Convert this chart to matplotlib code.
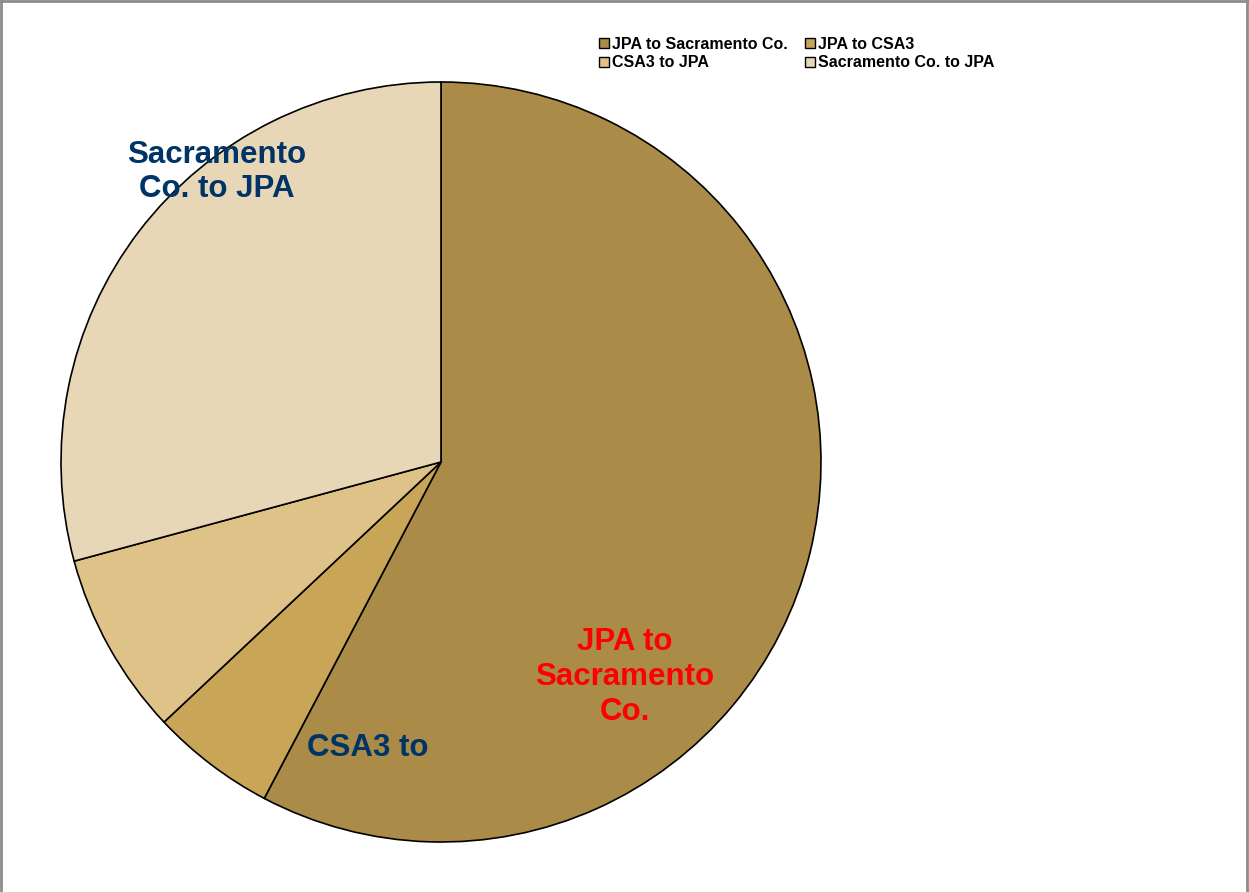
import matplotlib
matplotlib.use('Agg')
import matplotlib.pyplot as plt
from matplotlib.lines import Line2D

plt.rcParams['font.family'] = ['Liberation Sans', 'DejaVu Sans']

# Данні діаграми
categories = ['JPA to Sacramento Co.', 'JPA to CSA3', 'CSA3 to JPA', 'Sacramento Co. to JPA']
values = [57.7, 5.3, 7.8, 29.2]
colors = ['#AA8B47', '#C9A558', '#DFC288', '#E8D7B6']

W, H = 1249, 892
fig = plt.figure(figsize=(W / 100, H / 100), dpi=100)
ax = fig.add_axes([0, 0, 1, 1])

wedges, _ = ax.pie(values, colors=colors, startangle=90, counterclock=False,
                   center=(441, H - 462), radius=380, frame=True,
                   wedgeprops=dict(edgecolor='black', linewidth=1.2))
ax.set_xlim(0, W)
ax.set_ylim(0, H)
ax.axis('off')
ax.set_aspect('auto')

# Підписи секторів
ax.text(625, H - 677, 'JPA to\nSacramento\nCo.', color='#FF0000', fontsize=22.5,
        fontweight='bold', ha='center', va='center', linespacing=1.2)
ax.text(368, H - 748, 'CSA3 to', color='#003366', fontsize=22.5,
        fontweight='bold', ha='center', va='center')
ax.text(217, H - 172, 'Sacramento\nCo. to JPA', color='#003366', fontsize=22.5,
        fontweight='bold', ha='center', va='center', linespacing=1.2)

# Легенда (порядок по рядках, як в оригіналі)
order = [0, 2, 1, 3]
handles = [Line2D([], [], marker='s', linestyle='none', markersize=7,
                  markerfacecolor=colors[i], markeredgecolor='black', markeredgewidth=1)
           for i in order]
fig.legend(handles, [categories[i] for i in order], ncol=2, loc='upper left',
           bbox_to_anchor=(590 / W, 1 - 29 / H), frameon=False,
           prop={'size': 11.5, 'weight': 'bold'}, handletextpad=0.1,
           columnspacing=1.0, labelspacing=0.2, handlelength=0.8,
           borderpad=0)

# Сіра рамка
for x0, y0, x1, y1 in [(0, 0.999, 1, 0.999), (0.0008, 0, 0.0008, 1), (0.9985, 0, 0.9985, 1)]:
    fig.add_artist(Line2D([x0, x1], [y0, y1], transform=fig.transFigure,
                          color='#8C8C8C', linewidth=2))

plt.savefig('out.png', dpi=100)
